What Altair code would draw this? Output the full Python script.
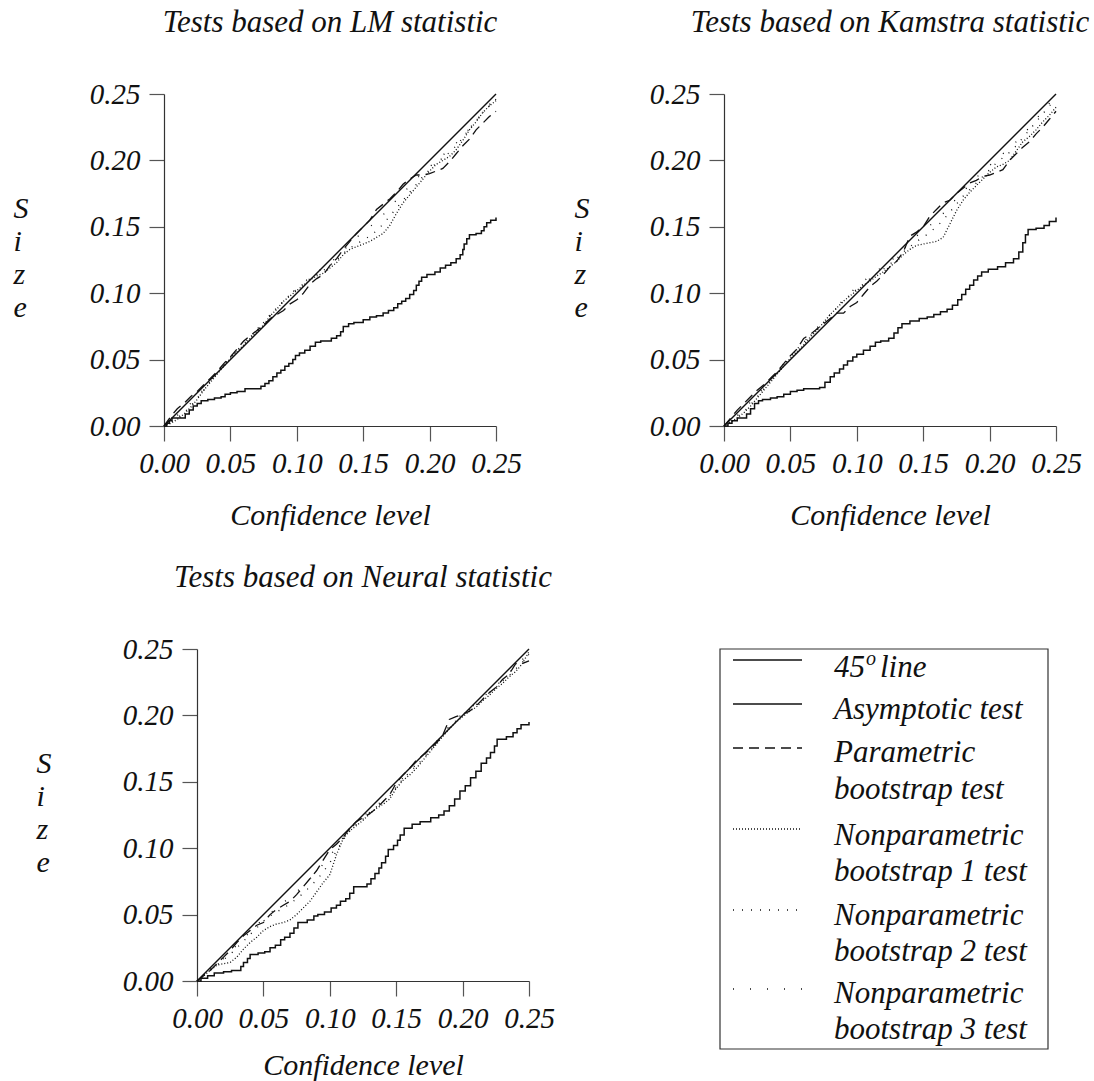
import altair as alt
import pandas as pd

FONT = "Liberation Serif"
TXT = "#111111"

# ---------------- data ----------------
ticks = [0.00, 0.05, 0.10, 0.15, 0.20, 0.25]
diag_x = [0.0, 0.25]
diag_y = [0.0, 0.25]

grid_x = [0.000, 0.005, 0.010, 0.015, 0.020, 0.025, 0.030, 0.035, 0.040, 0.045,
          0.050, 0.055, 0.060, 0.065, 0.070, 0.075, 0.080, 0.085, 0.090, 0.095,
          0.100, 0.105, 0.110, 0.115, 0.120, 0.125, 0.130, 0.135, 0.140, 0.145,
          0.150, 0.155, 0.160, 0.165, 0.170, 0.175, 0.180, 0.185, 0.190, 0.195,
          0.200, 0.205, 0.210, 0.215, 0.220, 0.225, 0.230, 0.235, 0.240, 0.245,
          0.250]

# LM statistic
lm_asym_x = [0.000, 0.002, 0.004, 0.006, 0.016, 0.019, 0.022, 0.025, 0.028, 0.033,
             0.038, 0.043, 0.046, 0.050, 0.055, 0.061, 0.073, 0.076, 0.079, 0.082,
             0.085, 0.088, 0.091, 0.094, 0.097, 0.099, 0.102, 0.106, 0.110, 0.114,
             0.118, 0.126, 0.130, 0.133, 0.135, 0.139, 0.143, 0.150, 0.155, 0.160,
             0.165, 0.169, 0.173, 0.176, 0.179, 0.182, 0.185, 0.188, 0.190, 0.192,
             0.194, 0.198, 0.204, 0.208, 0.212, 0.216, 0.220, 0.223, 0.225, 0.226,
             0.228, 0.230, 0.235, 0.239, 0.241, 0.243, 0.246, 0.250]
lm_asym_y = [0.000, 0.002, 0.004, 0.006, 0.009, 0.012, 0.015, 0.017, 0.019, 0.020,
             0.021, 0.022, 0.024, 0.025, 0.026, 0.028, 0.030, 0.032, 0.034, 0.037,
             0.040, 0.042, 0.045, 0.047, 0.050, 0.053, 0.055, 0.057, 0.060, 0.063,
             0.064, 0.066, 0.068, 0.071, 0.075, 0.077, 0.078, 0.080, 0.082, 0.083,
             0.085, 0.087, 0.089, 0.092, 0.094, 0.096, 0.099, 0.102, 0.106, 0.109,
             0.112, 0.114, 0.116, 0.119, 0.121, 0.123, 0.126, 0.129, 0.133, 0.137,
             0.141, 0.144, 0.145, 0.147, 0.150, 0.153, 0.155, 0.157]
lm_param = [0.000, 0.007, 0.013, 0.017, 0.022, 0.026, 0.031, 0.036, 0.041, 0.047,
            0.052, 0.058, 0.064, 0.068, 0.072, 0.076, 0.081, 0.084, 0.087, 0.092,
            0.095, 0.100, 0.107, 0.111, 0.114, 0.121, 0.126, 0.133, 0.139, 0.145,
            0.150, 0.155, 0.163, 0.167, 0.171, 0.176, 0.182, 0.186, 0.189, 0.189,
            0.190, 0.192, 0.194, 0.199, 0.205, 0.211, 0.216, 0.223, 0.228, 0.233,
            0.237]
lm_np1 = [0.000, 0.002, 0.005, 0.009, 0.014, 0.020, 0.027, 0.033, 0.039, 0.045,
          0.051, 0.056, 0.061, 0.066, 0.071, 0.076, 0.083, 0.088, 0.094, 0.098,
          0.102, 0.106, 0.110, 0.113, 0.115, 0.119, 0.123, 0.129, 0.133, 0.135,
          0.137, 0.139, 0.142, 0.145, 0.151, 0.160, 0.168, 0.174, 0.180, 0.186,
          0.192, 0.197, 0.200, 0.203, 0.208, 0.215, 0.223, 0.229, 0.236, 0.241,
          0.245]
lm_np2 = [0.000, 0.003, 0.006, 0.010, 0.015, 0.021, 0.027, 0.034, 0.040, 0.046,
          0.052, 0.057, 0.062, 0.067, 0.072, 0.078, 0.084, 0.089, 0.094, 0.099,
          0.103, 0.107, 0.111, 0.114, 0.117, 0.121, 0.125, 0.130, 0.134, 0.137,
          0.140, 0.143, 0.147, 0.152, 0.158, 0.164, 0.170, 0.176, 0.182, 0.188,
          0.193, 0.198, 0.202, 0.206, 0.211, 0.217, 0.224, 0.230, 0.236, 0.241,
          0.246]
lm_np3 = [0.000, 0.004, 0.008, 0.012, 0.017, 0.022, 0.028, 0.034, 0.040, 0.046,
          0.051, 0.057, 0.062, 0.068, 0.073, 0.078, 0.083, 0.089, 0.094, 0.099,
          0.104, 0.108, 0.112, 0.116, 0.119, 0.123, 0.127, 0.132, 0.137, 0.142,
          0.146, 0.150, 0.154, 0.159, 0.165, 0.170, 0.175, 0.181, 0.186, 0.191,
          0.195, 0.200, 0.204, 0.208, 0.213, 0.218, 0.224, 0.230, 0.236, 0.242,
          0.247]

# Kamstra statistic
kam_asym_x = [0.000, 0.003, 0.006, 0.010, 0.017, 0.020, 0.023, 0.026, 0.029, 0.035,
              0.040, 0.045, 0.050, 0.055, 0.060, 0.072, 0.076, 0.080, 0.083, 0.087,
              0.090, 0.093, 0.097, 0.100, 0.105, 0.110, 0.114, 0.118, 0.124, 0.128,
              0.131, 0.134, 0.140, 0.147, 0.153, 0.158, 0.163, 0.168, 0.172, 0.176,
              0.179, 0.182, 0.185, 0.188, 0.191, 0.194, 0.199, 0.206, 0.212, 0.218,
              0.222, 0.225, 0.227, 0.229, 0.235, 0.241, 0.245, 0.250]
kam_asym_y = [0.000, 0.002, 0.004, 0.006, 0.009, 0.013, 0.017, 0.019, 0.020, 0.021,
              0.022, 0.024, 0.026, 0.027, 0.028, 0.029, 0.033, 0.037, 0.040, 0.043,
              0.046, 0.049, 0.052, 0.054, 0.057, 0.060, 0.063, 0.064, 0.066, 0.070,
              0.074, 0.077, 0.079, 0.081, 0.082, 0.084, 0.086, 0.088, 0.091, 0.095,
              0.099, 0.103, 0.106, 0.110, 0.113, 0.116, 0.118, 0.120, 0.123, 0.126,
              0.131, 0.138, 0.144, 0.148, 0.149, 0.151, 0.154, 0.157]
kam_param = [0.000, 0.006, 0.012, 0.017, 0.022, 0.027, 0.031, 0.036, 0.041, 0.047,
             0.053, 0.058, 0.066, 0.069, 0.073, 0.077, 0.081, 0.085, 0.085, 0.090,
             0.093, 0.099, 0.105, 0.109, 0.114, 0.120, 0.124, 0.131, 0.143, 0.146,
             0.150, 0.158, 0.163, 0.168, 0.170, 0.175, 0.179, 0.183, 0.185, 0.188,
             0.189, 0.191, 0.193, 0.200, 0.205, 0.210, 0.214, 0.220, 0.225, 0.231,
             0.237]
kam_np1 = [0.000, 0.003, 0.006, 0.010, 0.015, 0.021, 0.027, 0.033, 0.039, 0.045,
           0.051, 0.056, 0.061, 0.067, 0.072, 0.078, 0.084, 0.089, 0.094, 0.098,
           0.102, 0.106, 0.109, 0.113, 0.116, 0.120, 0.124, 0.129, 0.133, 0.136,
           0.137, 0.138, 0.139, 0.142, 0.152, 0.162, 0.170, 0.176, 0.181, 0.186,
           0.191, 0.195, 0.197, 0.200, 0.207, 0.214, 0.218, 0.223, 0.229, 0.234,
           0.240]
kam_np2 = [0.000, 0.003, 0.007, 0.011, 0.016, 0.022, 0.028, 0.034, 0.040, 0.046,
           0.052, 0.058, 0.063, 0.068, 0.073, 0.078, 0.084, 0.089, 0.094, 0.099,
           0.103, 0.107, 0.111, 0.115, 0.118, 0.122, 0.126, 0.131, 0.135, 0.139,
           0.142, 0.146, 0.150, 0.155, 0.161, 0.167, 0.173, 0.178, 0.183, 0.188,
           0.193, 0.198, 0.202, 0.206, 0.211, 0.217, 0.223, 0.229, 0.235, 0.241,
           0.246]
kam_np3 = [0.000, 0.004, 0.008, 0.013, 0.018, 0.023, 0.029, 0.035, 0.041, 0.047,
           0.052, 0.058, 0.063, 0.069, 0.074, 0.079, 0.084, 0.090, 0.095, 0.100,
           0.105, 0.109, 0.113, 0.117, 0.120, 0.124, 0.128, 0.133, 0.138, 0.143,
           0.147, 0.151, 0.155, 0.160, 0.166, 0.171, 0.176, 0.182, 0.187, 0.192,
           0.196, 0.201, 0.205, 0.209, 0.214, 0.219, 0.225, 0.231, 0.237, 0.243,
           0.248]

# Neural statistic
neu_asym_x = [0.000, 0.003, 0.008, 0.013, 0.020, 0.026, 0.033, 0.035, 0.038, 0.040,
              0.046, 0.051, 0.055, 0.059, 0.063, 0.066, 0.070, 0.073, 0.076, 0.083,
              0.088, 0.091, 0.096, 0.101, 0.105, 0.108, 0.112, 0.115, 0.118, 0.128,
              0.131, 0.134, 0.137, 0.139, 0.142, 0.144, 0.148, 0.151, 0.153, 0.156,
              0.162, 0.168, 0.176, 0.182, 0.186, 0.190, 0.194, 0.198, 0.202, 0.206,
              0.210, 0.214, 0.218, 0.221, 0.224, 0.226, 0.233, 0.238, 0.241, 0.244,
              0.250]
neu_asym_y = [0.000, 0.002, 0.004, 0.006, 0.007, 0.008, 0.011, 0.014, 0.017, 0.020,
              0.021, 0.022, 0.025, 0.027, 0.031, 0.033, 0.036, 0.040, 0.044, 0.046,
              0.049, 0.050, 0.052, 0.055, 0.057, 0.060, 0.062, 0.066, 0.071, 0.073,
              0.077, 0.081, 0.085, 0.089, 0.094, 0.099, 0.102, 0.106, 0.110, 0.115,
              0.118, 0.120, 0.123, 0.125, 0.128, 0.132, 0.137, 0.143, 0.147, 0.153,
              0.158, 0.164, 0.168, 0.172, 0.177, 0.182, 0.184, 0.187, 0.190, 0.193,
              0.195]
neu_param = [0.000, 0.004, 0.008, 0.013, 0.018, 0.023, 0.029, 0.034, 0.038, 0.042,
             0.044, 0.050, 0.054, 0.057, 0.060, 0.065, 0.071, 0.077, 0.083, 0.091,
             0.099, 0.103, 0.108, 0.115, 0.120, 0.123, 0.126, 0.130, 0.135, 0.140,
             0.149, 0.155, 0.160, 0.166, 0.170, 0.174, 0.179, 0.185, 0.197, 0.199,
             0.201, 0.203, 0.207, 0.212, 0.217, 0.221, 0.227, 0.231, 0.239, 0.239,
             0.241]
neu_np1 = [0.000, 0.004, 0.008, 0.012, 0.013, 0.014, 0.018, 0.024, 0.029, 0.033,
           0.038, 0.041, 0.043, 0.044, 0.046, 0.050, 0.055, 0.060, 0.067, 0.074,
           0.080, 0.095, 0.107, 0.113, 0.117, 0.121, 0.126, 0.130, 0.133, 0.137,
           0.145, 0.151, 0.155, 0.160, 0.166, 0.172, 0.178, 0.184, 0.190, 0.195,
           0.199, 0.203, 0.206, 0.211, 0.215, 0.220, 0.224, 0.229, 0.233, 0.239,
           0.248]
neu_np2 = [0.000, 0.004, 0.009, 0.012, 0.016, 0.020, 0.025, 0.030, 0.035, 0.040,
           0.045, 0.049, 0.052, 0.055, 0.058, 0.062, 0.066, 0.071, 0.076, 0.082,
           0.089, 0.098, 0.106, 0.113, 0.118, 0.122, 0.127, 0.131, 0.135, 0.139,
           0.146, 0.152, 0.157, 0.162, 0.167, 0.173, 0.179, 0.185, 0.191, 0.196,
           0.200, 0.204, 0.208, 0.212, 0.217, 0.221, 0.226, 0.230, 0.235, 0.240,
           0.246]
neu_np3 = [0.000, 0.004, 0.008, 0.013, 0.017, 0.022, 0.027, 0.032, 0.037, 0.042,
           0.047, 0.051, 0.055, 0.059, 0.063, 0.067, 0.072, 0.077, 0.082, 0.088,
           0.094, 0.101, 0.108, 0.114, 0.119, 0.124, 0.128, 0.132, 0.136, 0.141,
           0.147, 0.153, 0.158, 0.163, 0.168, 0.174, 0.180, 0.186, 0.192, 0.197,
           0.201, 0.205, 0.209, 0.213, 0.218, 0.222, 0.227, 0.232, 0.237, 0.242,
           0.247]

legend_labels = ["Asymptotic test", "Parametric", "bootstrap test",
                 "Nonparametric", "bootstrap 1 test", "Nonparametric",
                 "bootstrap 2 test", "Nonparametric", "bootstrap 3 test"]

# ---------------- styles ----------------
DASH_PARAM = [10, 6]
DASH_NP1 = [1, 2]
DASH_NP2 = [1, 8]
DASH_NP3 = [1, 16]

PW, PH = 332, 332
TITLE_FS = 31
xscale = alt.Scale(domain=[0, 0.25], nice=False, zero=False)
yscale = alt.Scale(domain=[0, 0.25], nice=False, zero=False)


def line_df(xs, ys):
    return pd.DataFrame({"x": list(xs), "y": list(ys)})


def make_panel(title, asym, param, np1, np2, np3, title_x, x_title_pad=22):
    xaxis = alt.Axis(values=ticks, format=".2f", title="Confidence level",
                     grid=False, tickSize=15, labelPadding=8, titlePadding=x_title_pad,
                     labelFlush=False, labelOverlap=False)
    yaxis = alt.Axis(values=ticks, format=".2f", title=["S", "i", "z", "e"],
                     grid=False, tickSize=15, labelPadding=9,
                     titleAngle=0, titleAlign="left", titleBaseline="top",
                     titleX=title_x, titleY=99, titleLineHeight=33,
                     labelFlush=False, labelOverlap=False)
    enc = dict(x=alt.X("x:Q", scale=xscale, axis=xaxis),
               y=alt.Y("y:Q", scale=yscale, axis=yaxis))
    layers = [
        alt.Chart(line_df(diag_x, diag_y)).mark_line(color="#111", strokeWidth=1.4).encode(**enc),
        alt.Chart(line_df(asym[0], asym[1])).mark_line(color="#111", strokeWidth=1.5,
                                                        interpolate="step-after").encode(**enc),
        alt.Chart(line_df(grid_x, param)).mark_line(color="#111", strokeWidth=1.3,
                                                     strokeDash=DASH_PARAM).encode(**enc),
        alt.Chart(line_df(grid_x, np1)).mark_line(color="#111", strokeWidth=1.3,
                                                   strokeDash=DASH_NP1).encode(**enc),
        alt.Chart(line_df(grid_x, np2)).mark_line(color="#111", strokeWidth=1.3,
                                                   strokeDash=DASH_NP2).encode(**enc),
        alt.Chart(line_df(grid_x, np3)).mark_line(color="#111", strokeWidth=1.3,
                                                   strokeDash=DASH_NP3).encode(**enc),
    ]
    return alt.layer(*layers).properties(
        width=PW, height=PH,
        title=alt.TitleParams(text=title, font=FONT, fontSize=TITLE_FS, fontStyle="italic",
                              fontWeight="normal", color=TXT, anchor="middle",
                              frame="group", offset=41),
    )


lm = make_panel("Tests based on LM statistic", (lm_asym_x, lm_asym_y),
                lm_param, lm_np1, lm_np2, lm_np3, -151)
kam = make_panel("Tests based on Kamstra statistic", (kam_asym_x, kam_asym_y),
                 kam_param, kam_np1, kam_np2, kam_np3, -150)
neu = make_panel("Tests based on Neural statistic", (neu_asym_x, neu_asym_y),
                 neu_param, neu_np1, neu_np2, neu_np3, -161, x_title_pad=17)

# ---------------- legend panel ----------------
LW, LH = 328, 400
LEG_FS = 31
lxs = alt.Scale(domain=[0, LW], nice=False, zero=False)
lys = alt.Scale(domain=[0, LH], nice=False, zero=False, reverse=True)
sym_x1, sym_x2, txt_x = 13, 82, 114
sym_rows = [11, 55, 99, 180, 261, 340]
sym_dash = [None, None, DASH_PARAM, DASH_NP1, DASH_NP2, DASH_NP3]
txt_rows = [61, 104, 141, 187, 223, 267, 303, 345, 381]

box = alt.Chart(pd.DataFrame({"a": [0]})).mark_rect(
    filled=False, stroke="#333", strokeWidth=1.2).encode(
    x=alt.value(0), x2=alt.value(LW), y=alt.value(0), y2=alt.value(LH))

leg_layers = [box]
for yv, dash in zip(sym_rows, sym_dash):
    kw = dict(color="#111", strokeWidth=1.3)
    if dash is not None:
        kw["strokeDash"] = dash
    leg_layers.append(
        alt.Chart(pd.DataFrame({"x1": [sym_x1], "x2": [sym_x2], "y": [yv]}))
        .mark_rule(**kw)
        .encode(x=alt.X("x1:Q", scale=lxs, axis=None), x2="x2:Q",
                y=alt.Y("y:Q", scale=lys, axis=None))
    )

txt_style = dict(align="left", baseline="middle", font=FONT, fontSize=LEG_FS,
                 fontStyle="italic", color=TXT)
leg_text_df = pd.DataFrame({"x": [txt_x] * len(legend_labels), "y": txt_rows,
                            "t": legend_labels})
leg_layers.append(
    alt.Chart(leg_text_df).mark_text(**txt_style).encode(
        x=alt.X("x:Q", scale=lxs, axis=None), y=alt.Y("y:Q", scale=lys, axis=None),
        text="t:N")
)
first_df = pd.DataFrame({"x": [txt_x, txt_x + 46], "y": [19, 19], "t": ["45", "line"]})
leg_layers.append(
    alt.Chart(first_df).mark_text(**txt_style).encode(
        x=alt.X("x:Q", scale=lxs, axis=None), y=alt.Y("y:Q", scale=lys, axis=None),
        text="t:N")
)
sup_df = pd.DataFrame({"x": [txt_x + 32], "y": [10], "t": ["o"]})
leg_layers.append(
    alt.Chart(sup_df).mark_text(align="left", baseline="middle", font=FONT, fontSize=20,
                                fontStyle="italic", color=TXT).encode(
        x=alt.X("x:Q", scale=lxs, axis=None), y=alt.Y("y:Q", scale=lys, axis=None),
        text="t:N")
)
legend = alt.layer(*leg_layers).properties(width=LW, height=LH)


def spacer(w):
    return alt.Chart(pd.DataFrame({"t": [""]})).mark_text().encode(
        text="t:N").properties(width=w, height=10)


top = alt.hconcat(spacer(1), lm, spacer(51), kam, spacing=0)
bottom = alt.hconcat(spacer(24), neu, spacer(163), legend, spacing=0)

chart = alt.vconcat(top, bottom, spacing=30).properties(
    padding={"left": 11, "top": 6, "right": 0, "bottom": 0},
    background="white",
).configure_view(stroke="transparent").configure_axis(
    labelFont=FONT, labelFontSize=29, labelFontStyle="italic", labelColor=TXT,
    titleFont=FONT, titleFontSize=30, titleFontStyle="italic", titleFontWeight="normal",
    titleColor=TXT, domainColor="#333", tickColor="#555", domainWidth=1.2, tickWidth=1.2,
)

chart.save("out.html", embed_options={"renderer": "svg", "actions": False})
